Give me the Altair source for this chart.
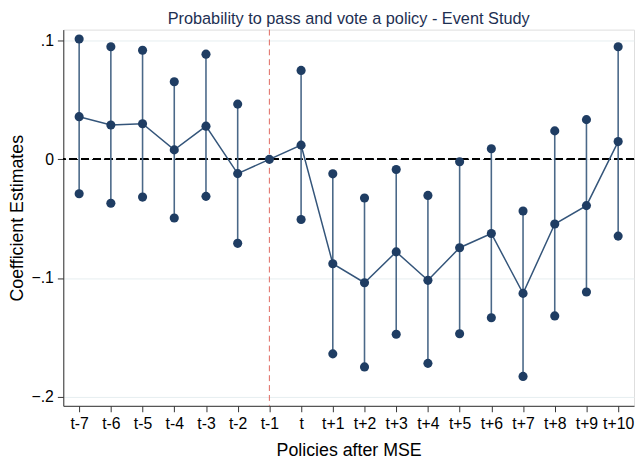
import altair as alt
import pandas as pd

periods = ["t-7", "t-6", "t-5", "t-4", "t-3", "t-2", "t-1", "t", "t+1", "t+2",
           "t+3", "t+4", "t+5", "t+6", "t+7", "t+8", "t+9", "t+10"]
estimate = [0.036, 0.029, 0.030, 0.008, 0.028, -0.012, 0.0, 0.012, -0.088, -0.104,
            -0.078, -0.102, -0.0745, -0.0625, -0.113, -0.0545, -0.039, 0.015]
upper = [0.1015, 0.095, 0.092, 0.0655, 0.0887, 0.0466, None, 0.075, -0.0122, -0.0326,
         -0.0086, -0.0304, -0.002, 0.009, -0.0435, 0.024, 0.0335, 0.095]
lower = [-0.029, -0.037, -0.0318, -0.0494, -0.0312, -0.0708, None, -0.0507, -0.164, -0.175,
         -0.1475, -0.172, -0.147, -0.1336, -0.183, -0.132, -0.1118, -0.0647]

df = pd.DataFrame({"period": periods, "est": estimate, "hi": upper, "lo": lower})
ci = df.dropna()

navy = "#1f3d63"
line_col = "#34557a"
font = "Liberation Sans"

x_scale = alt.Scale(type="point", padding=0.5)
y_scale = alt.Scale(domain=[-0.2078, 0.1094], nice=False, zero=False)

x_enc = alt.X("period:N", sort=periods, title="Policies after MSE", scale=x_scale,
              axis=alt.Axis(labelAngle=0, grid=False, titlePadding=10))
y_enc = alt.Y("est:Q", scale=y_scale, title="Coefficient Estimates",
              axis=alt.Axis(values=[-0.2, -0.1, 0, 0.1], grid=True, titlePadding=5,
                            labelExpr="datum.value == 0 ? '0' : replace(format(datum.value, '.1f'), '0.', '.')"))

base = alt.Chart(df)

axis_layer = base.mark_point(opacity=0).encode(x=x_enc, y=y_enc)

zero_rule = base.mark_rule(color="black", strokeDash=[8, 4], strokeWidth=1.4).encode(
    y=alt.datum(0))

vline = alt.Chart(pd.DataFrame({"period": ["t-1"]})).mark_rule(
    color="#e0695f", strokeDash=[6, 4], strokeWidth=1).encode(
    x=alt.X("period:N", sort=periods))

bars = alt.Chart(ci).mark_rule(color="#4a6888", strokeWidth=1.6).encode(
    x=alt.X("period:N", sort=periods), y="lo:Q", y2="hi:Q")

line = base.mark_line(color=line_col, strokeWidth=1.5).encode(
    x=alt.X("period:N", sort=periods), y="est:Q")

pts_est = base.mark_circle(color=navy, size=85, opacity=1).encode(
    x=alt.X("period:N", sort=periods), y="est:Q")
pts_hi = alt.Chart(ci).mark_circle(color=navy, size=85, opacity=1).encode(
    x=alt.X("period:N", sort=periods), y="hi:Q")
pts_lo = alt.Chart(ci).mark_circle(color=navy, size=85, opacity=1).encode(
    x=alt.X("period:N", sort=periods), y="lo:Q")

chart = alt.layer(axis_layer, zero_rule, vline, bars, line, pts_est, pts_hi, pts_lo).properties(
    width=578, height=381,
    title=alt.TitleParams("Probability to pass and vote a policy - Event Study",
                          fontSize=16.5, fontWeight="normal", color="#1d2f52",
                          font=font, anchor="middle", offset=2),
    padding={"left": 0, "top": 0, "right": 0, "bottom": 0},
).configure_view(stroke=None).configure(background="white").configure_axis(
    labelFontSize=16, titleFontSize=18, titleFontWeight="normal",
    labelColor="black", titleColor="black", tickColor="#333", domainColor="#333",
    tickSize=6, labelPadding=4, gridColor="#e6eef0", gridWidth=1,
    labelFont=font, titleFont=font)

chart.save("out.html", embed_options={"renderer": "svg", "actions": False})
